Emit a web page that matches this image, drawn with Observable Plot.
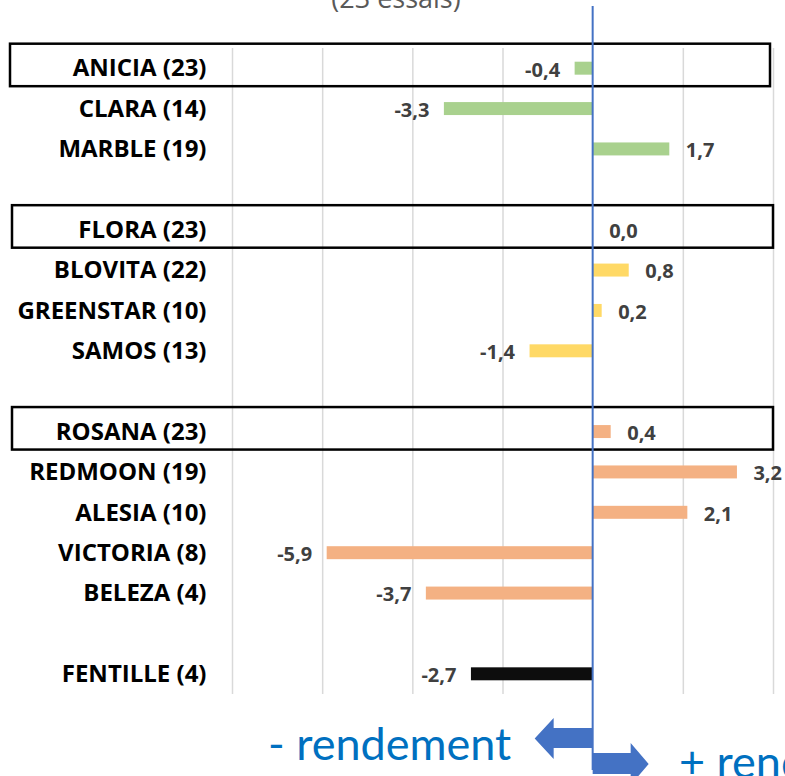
<!DOCTYPE html>
<html>
<head>
<meta charset="utf-8">
<script src="https://cdn.jsdelivr.net/npm/d3@7"></script>
<script src="https://cdn.jsdelivr.net/npm/@observablehq/plot@0.6"></script>
<style>
  html, body { margin: 0; padding: 0; background: #fff; overflow: hidden; }
  #chart svg { display: block; }
</style>
</head>
<body>
<div id="chart"></div>
<script>
// ---- data ----
const varieties = ["ANICIA (23)", "CLARA (14)", "MARBLE (19)",
  "FLORA (23)", "BLOVITA (22)", "GREENSTAR (10)", "SAMOS (13)",
  "ROSANA (23)", "REDMOON (19)", "ALESIA (10)", "VICTORIA (8)", "BELEZA (4)",
  "FENTILLE (4)"];
const values = [-0.4, -3.3, 1.7, 0.0, 0.8, 0.2, -1.4, 0.4, 3.2, 2.1, -5.9, -3.7, -2.7];
const groups = ["G1", "G1", "G1", "G2", "G2", "G2", "G2", "G3", "G3", "G3", "G3", "G3", "T"];
const groupNames = ["G1", "G2", "G3", "T"];
const groupColors = ["#A9D18E", "#FFD966", "#F4B183", "#0D0D0D"];
const rowOrder = ["ANICIA (23)", "CLARA (14)", "MARBLE (19)", "gap1",
  "FLORA (23)", "BLOVITA (22)", "GREENSTAR (10)", "SAMOS (13)", "gap2",
  "ROSANA (23)", "REDMOON (19)", "ALESIA (10)", "VICTORIA (8)", "BELEZA (4)", "gap3",
  "FENTILLE (4)"];
const references = ["ANICIA (23)", "FLORA (23)", "ROSANA (23)"];
const gridTicks = [-8, -6, -4, -2, 2, 4];
const titleText = "(23 essais)";
const leftText = "- rendement";
const rightText = "+ rendement";

const data = varieties.map((name, i) => ({name, value: values[i], group: groups[i]}));
const fmt = v => v.toFixed(1).replace(".", ",");

const chart = Plot.plot({
  width: 785,
  height: 776,
  marginLeft: 232,
  marginRight: 12,
  marginTop: 48,
  marginBottom: 82,
  style: {fontFamily: "'Open Sans', sans-serif", background: "#fff", overflow: "hidden"},
  x: {domain: [-8, 4], axis: null},
  y: {domain: rowOrder, paddingInner: 0, paddingOuter: 0, round: false, axis: null},
  color: {domain: groupNames, range: groupColors},
  marks: [
    Plot.ruleX(gridTicks, {stroke: "#D9D9D9", strokeWidth: 1.5}),
    Plot.barX(data, {x: "value", y: "name", fill: "group", insetTop: 13.7, insetBottom: 13.7}),
    Plot.text(data.filter(d => d.value >= 0), {x: "value", y: "name", text: d => fmt(d.value),
      textAnchor: "start", dx: 16, dy: 1.5, fontSize: 20, fontWeight: "bold", fill: "#404040"}),
    Plot.text(data.filter(d => d.value < 0), {x: "value", y: "name", text: d => fmt(d.value),
      textAnchor: "end", dx: -15, dy: 1.5, fontSize: 20, fontWeight: "bold", fill: "#404040"}),
    Plot.axisY({tickSize: 0, tickPadding: 26, fontSize: 24, fontWeight: "bold", fill: "#000",
      tickFormat: d => d.startsWith("gap") ? "" : d, label: null})
  ]
});

const svg = d3.select(chart);
const xs = chart.scale("x");
const ys = chart.scale("y");
const x0 = xs.apply(0);
const bw = ys.bandwidth;

// reference boxes
references.forEach((r, i) => {
  const cy = ys.apply(r) + bw / 2;
  const left = i === 0 ? 10 : 12;
  const right = i === 0 ? 770 : 773;
  svg.append("rect")
    .attr("x", left).attr("y", cy - 24.5)
    .attr("width", right - left).attr("height", 42.5)
    .attr("fill", "none").attr("stroke", "#000").attr("stroke-width", 2.5);
});

// title (cut at top, as in the reference)
svg.append("text").text(titleText)
  .attr("x", 396).attr("y", 8).attr("text-anchor", "middle")
  .attr("font-family", "'Open Sans', sans-serif").attr("font-size", 27).attr("fill", "#595959");

// arrows
svg.append("path")
  .attr("d", `M${x0},728 L${x0-39},728 L${x0-39},718 L${x0-58},738.5 L${x0-39},759 L${x0-39},748 L${x0},748 Z`)
  .attr("fill", "#4472C4");
svg.append("path")
  .attr("d", `M${x0},753 L${x0+38},753 L${x0+38},743 L${x0+56},764 L${x0+38},785 L${x0+38},774 L${x0},774 Z`)
  .attr("fill", "#4472C4");

// zero line
svg.append("line")
  .attr("x1", x0).attr("x2", x0).attr("y1", 6).attr("y2", 770)
  .attr("stroke", "#4472C4").attr("stroke-width", 2);

// direction texts
svg.append("text").text(leftText)
  .attr("x", 268).attr("y", 760).attr("text-anchor", "start")
  .attr("font-family", "Lato, sans-serif").attr("font-size", 45).attr("fill", "#0070C0");
svg.append("text").text(rightText)
  .attr("x", 679).attr("y", 778).attr("text-anchor", "start")
  .attr("font-family", "Lato, sans-serif").attr("font-size", 45).attr("fill", "#0070C0");

document.getElementById("chart").appendChild(chart);
</script>
</body>
</html>
